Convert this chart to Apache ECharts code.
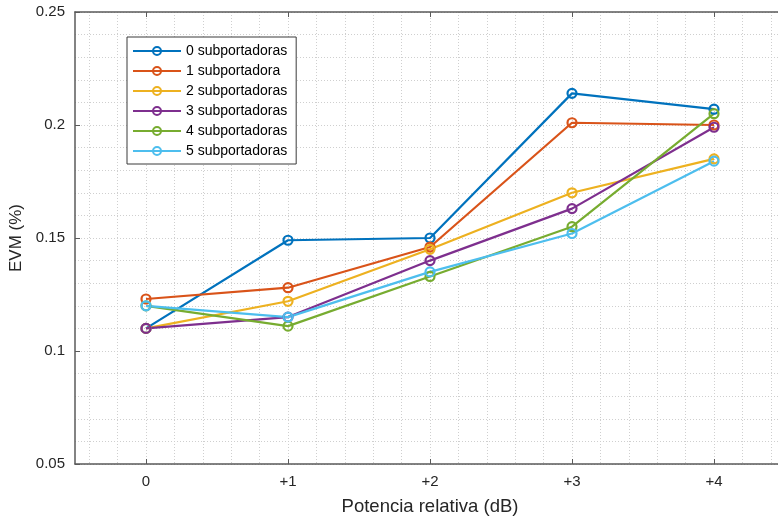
<!DOCTYPE html>
<html>
<head>
<meta charset="utf-8">
<script src="https://cdn.jsdelivr.net/npm/echarts@6/dist/echarts.min.js"></script>
<style>
  html, body { margin: 0; padding: 0; background: #ffffff; }
  #chart { width: 778px; height: 520px; }
</style>
</head>
<body>
<div id="chart"></div>
<script>
// Relative power steps (x axis) and EVM per number of subcarriers
const categories = ['0', '+1', '+2', '+3', '+4'];
const seriesNames = ['0 subportadoras', '1 subportadora', '2 subportadoras', '3 subportadoras', '4 subportadoras', '5 subportadoras'];
const evm0 = [0.110, 0.149, 0.150, 0.214, 0.207];
const evm1 = [0.123, 0.128, 0.146, 0.201, 0.200];
const evm2 = [0.110, 0.122, 0.145, 0.170, 0.185];
const evm3 = [0.110, 0.115, 0.140, 0.163, 0.199];
const evm4 = [0.120, 0.111, 0.133, 0.155, 0.205];
const evm5 = [0.120, 0.115, 0.135, 0.152, 0.184];
const yTicks = { min: 0.05, max: 0.25, step: 0.05 };

const evmSets = [evm0, evm1, evm2, evm3, evm4, evm5];
const palette = ['#0072BD', '#D95319', '#EDB120', '#7E2F8E', '#77AC30', '#4DBEEE'];
const font = "'Liberation Sans', Arial, Helvetica, sans-serif";
const axisColor = '#5a5a5a';
const textColor = '#262626';
const gridLine = { color: '#cfcfcf', width: 1, type: [1, 2] };

// minor x grid: five slots per category, centred on every 0.2 step
const minorSlots = [];
categories.forEach((c, i) => { for (let k = 0; k < 5; k++) minorSlots.push(c + '_' + k); });

const chart = echarts.init(document.getElementById('chart'), null, { renderer: 'canvas' });

const series = seriesNames.map((name, i) => ({
  name: name,
  type: 'line',
  xAxisIndex: 0,
  yAxisIndex: 0,
  data: evmSets[i],
  color: palette[i],
  symbol: 'circle',
  symbolSize: 9,
  showAllSymbol: true,
  lineStyle: { width: 2.2, color: palette[i] },
  itemStyle: { color: 'rgba(255,255,255,0)', borderColor: palette[i], borderWidth: 2.2 },
  emphasis: { disabled: true },
  animation: false
}));

chart.setOption({
  animation: false,
  backgroundColor: '#ffffff',
  // the plot box runs slightly past the right edge of the canvas
  grid: { left: 75, width: 710, top: 12, bottom: 56, containLabel: false, outerBoundsMode: 'none' },
  legend: {
    orient: 'vertical',
    left: 127,
    top: 37,
    data: seriesNames,
    itemWidth: 48,
    itemHeight: 10,
    itemGap: 6,
    padding: [7, 9, 6, 5],
    backgroundColor: '#ffffff',
    borderColor: '#3a3a3a',
    borderWidth: 1,
    borderRadius: 0,
    textStyle: { fontSize: 14, color: '#000000', fontFamily: font }
  },
  xAxis: [
    {
      type: 'category',
      data: categories,
      boundaryGap: true,
      position: 'bottom',
      axisLine: { show: true, lineStyle: { color: axisColor, width: 1.5 } },
      axisTick: { show: true, inside: true, alignWithLabel: true, length: 5, lineStyle: { color: axisColor, width: 1 } },
      axisLabel: { show: true, interval: 0, margin: 10, fontSize: 15, color: textColor, fontFamily: font },
      splitLine: { show: false },
      name: 'Potencia relativa (dB)',
      nameLocation: 'middle',
      nameGap: 33,
      nameTextStyle: { fontSize: 18.5, color: textColor, fontFamily: font }
    },
    {
      type: 'category',
      data: minorSlots,
      boundaryGap: true,
      position: 'bottom',
      axisLine: { show: false },
      axisTick: { show: false },
      axisLabel: { show: false, interval: 0 },
      splitLine: { show: true, interval: 0, alignWithLabel: true, lineStyle: gridLine }
    },
    {
      type: 'category',
      data: categories,
      boundaryGap: true,
      position: 'top',
      axisLine: { show: true, lineStyle: { color: axisColor, width: 1.5 } },
      axisTick: { show: true, inside: true, alignWithLabel: true, length: 5, lineStyle: { color: axisColor, width: 1 } },
      axisLabel: { show: false },
      splitLine: { show: false }
    }
  ],
  yAxis: [
    {
      type: 'value',
      min: yTicks.min,
      max: yTicks.max,
      interval: yTicks.step,
      position: 'left',
      axisLine: { show: true, lineStyle: { color: axisColor, width: 1.5 } },
      axisTick: { show: true, inside: true, length: 5, lineStyle: { color: axisColor, width: 1 } },
      minorTick: { show: false, splitNumber: 5 },
      minorSplitLine: { show: true, lineStyle: gridLine },
      splitLine: { show: true, lineStyle: gridLine },
      axisLabel: {
        margin: 10, fontSize: 15, color: textColor, fontFamily: font,
        formatter: v => String(parseFloat(v.toFixed(2)))
      },
      name: 'EVM (%)',
      nameLocation: 'middle',
      nameGap: 48,
      nameTextStyle: { fontSize: 17, color: textColor, fontFamily: font }
    }
  ],
  series: series
});
</script>
</body>
</html>
